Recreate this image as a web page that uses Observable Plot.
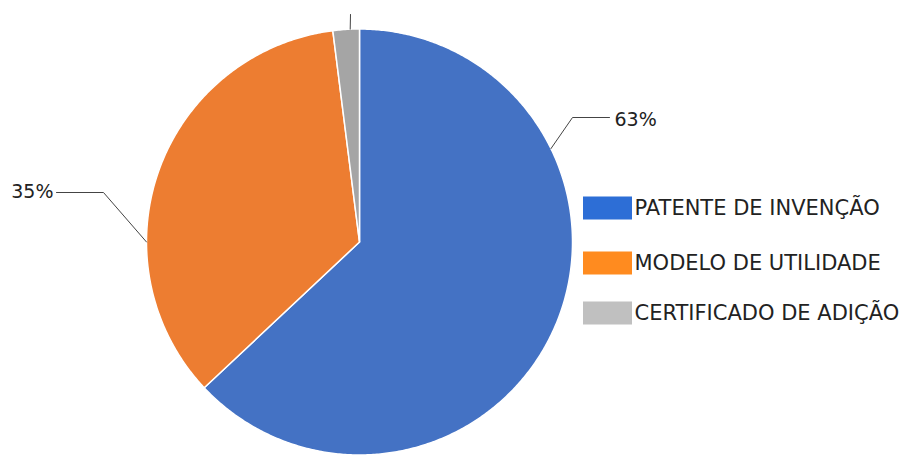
<!DOCTYPE html>
<html><head><meta charset="utf-8">
<script src="https://cdn.jsdelivr.net/npm/d3@7"></script>
<script src="https://cdn.jsdelivr.net/npm/@observablehq/plot@0.6"></script>
<style>body{margin:0;background:#fff}</style>
</head><body><div id="chart"></div>
<script>
// ---- data ----
const categories = ["PATENTE DE INVENÇÃO", "MODELO DE UTILIDADE", "CERTIFICADO DE ADIÇÃO"];
const values = [63, 35, 2];
const valueLabels = ["63%", "35%", "2%"];
const sliceColors = ["#4472C4", "#ED7D31", "#A5A5A5"];
const legendColors = ["#2D6ED6", "#FF8B1F", "#C0C0C0"];

// ---- layout ----
const W = 903, H = 460, cx = 359, cy = 241.5, R = 213;
const leaderLayout = [
  {rimDeg: 64, elbow: [572, 117], end: [609, 117], tx: 614, ty: 119, anchor: "start"},
  {rimDeg: 270, elbow: [103, 192], end: [56, 192], tx: 53, ty: 191, anchor: "end"},
  {rimDeg: 357.5, elbow: null, end: [350, 14], tx: 350, ty: -8, anchor: "middle"}
];
const legendLayout = {x1: 583, x2: 632, ys: [208, 263, 313], h: 23, tx: 634};

const pie = d3.pie().sort(null).value(d => d)(values);
const pt = (a, r) => [cx + r * Math.sin(a), cy - r * Math.cos(a)];

const slicePts = [];
pie.forEach((p, i) => {
  const n = Math.max(2, Math.ceil((p.endAngle - p.startAngle) / (Math.PI / 360)));
  slicePts.push({k: i, x: cx, y: cy, c: sliceColors[i]});
  for (let j = 0; j <= n; j++) {
    const a = p.startAngle + (p.endAngle - p.startAngle) * j / n;
    const [x, y] = pt(a, R);
    slicePts.push({k: i, x, y, c: sliceColors[i]});
  }
});

const leaderPts = [];
const labelRows = [];
leaderLayout.forEach((L, i) => {
  const [rx, ry] = pt(L.rimDeg * Math.PI / 180, R);
  leaderPts.push({k: i, x: rx, y: ry});
  if (L.elbow) leaderPts.push({k: i, x: L.elbow[0], y: L.elbow[1]});
  leaderPts.push({k: i, x: L.end[0], y: L.end[1]});
  labelRows.push({x: L.tx, y: L.ty, text: valueLabels[i], anchor: L.anchor});
});

const legendRows = categories.map((c, i) => ({
  name: c, color: legendColors[i],
  x1: legendLayout.x1, x2: legendLayout.x2,
  y1: legendLayout.ys[i] - legendLayout.h / 2, y2: legendLayout.ys[i] + legendLayout.h / 2,
  tx: legendLayout.tx, ty: legendLayout.ys[i]
}));

const chart = Plot.plot({
  width: W, height: H,
  margin: 0,
  x: {type: "linear", domain: [0, W], range: [0, W], axis: null},
  y: {type: "linear", domain: [0, H], range: [0, H], axis: null},
  color: {type: "identity"},
  style: {fontFamily: "DejaVu Sans", background: "#fff", color: "#222"},
  marks: [
    Plot.line(slicePts, {x: "x", y: "y", z: "k", fill: "c", stroke: "white", strokeWidth: 1.5, curve: "linear-closed"}),
    Plot.line(leaderPts, {x: "x", y: "y", z: "k", stroke: "#444", strokeWidth: 1}),
    Plot.text(labelRows.filter(d => d.anchor === "start"), {x: "x", y: "y", text: "text", textAnchor: "start", fontSize: 19, fill: "#222"}),
    Plot.text(labelRows.filter(d => d.anchor === "end"), {x: "x", y: "y", text: "text", textAnchor: "end", fontSize: 19, fill: "#222"}),
    Plot.rect(legendRows, {x1: "x1", x2: "x2", y1: "y1", y2: "y2", fill: "color"}),
    Plot.text(legendRows, {x: "tx", y: "ty", text: "name", textAnchor: "start", fontSize: 21, fill: "#222"})
  ]
});
document.getElementById("chart").appendChild(chart);
</script>
</body></html>
